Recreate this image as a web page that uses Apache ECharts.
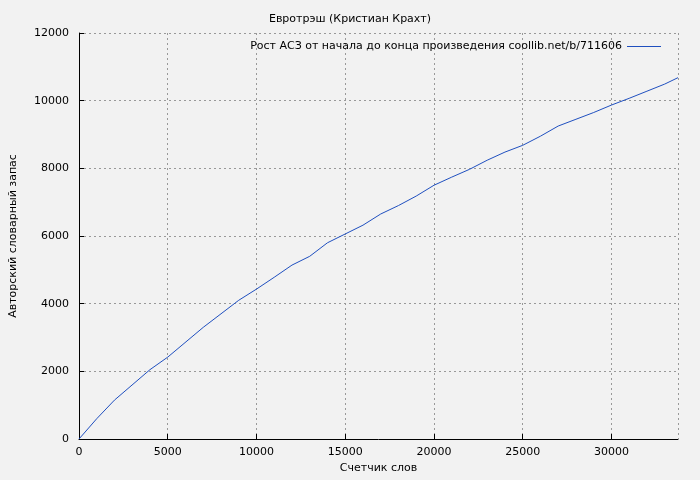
<!DOCTYPE html>
<html>
<head>
<meta charset="utf-8">
<script src="https://cdn.jsdelivr.net/npm/echarts@6/dist/echarts.min.js"></script>
<style>html,body{margin:0;padding:0;background:#f2f2f2}#chart{width:700px;height:480px}</style>
</head>
<body>
<div id="chart"></div>
<script>
const words = [0, 1000, 2000, 4000, 5000, 7000, 9000, 10000, 11000, 12000, 13000, 14000, 15000, 16000, 17000, 18000, 19000, 20000, 21000, 22000, 23000, 24000, 25000, 26000, 27000, 28000, 29000, 30000, 31000, 32000, 33000, 33750];
const vocab = [0, 600, 1150, 2050, 2420, 3300, 4100, 4430, 4780, 5140, 5400, 5800, 6060, 6320, 6650, 6900, 7180, 7500, 7740, 7970, 8240, 8480, 8680, 8950, 9250, 9450, 9650, 9870, 10070, 10280, 10490, 10680];

const chart = echarts.init(document.getElementById("chart"));
const font = "DejaVu Sans";
const gridLine = { show: true, lineStyle: { color: "#999", type: [2, 3], width: 1 } };

chart.setOption({
    backgroundColor: "#f2f2f2",
    animation: false,
    title: {
        text: "Евротрэш (Кристиан Крахт)",
        left: "center",
        top: 9,
        textStyle: { fontFamily: font, fontSize: 11, fontWeight: "normal", color: "#000" }
    },
    legend: {
        right: 34,
        top: 36,
        align: "right",
        itemWidth: 34,
        itemHeight: 1,
        icon: "rect",
        textStyle: { fontFamily: font, fontSize: 11, color: "#000" },
        data: ["Рост АСЗ от начала до конца произведения coollib.net/b/711606"]
    },
    grid: { left: 74, right: 22, top: 33, bottom: 41 },
    xAxis: {
        type: "value",
        min: 0,
        max: 33750,
        interval: 5000,
        name: "Счетчик слов",
        nameLocation: "middle",
        nameGap: 24,
        nameTextStyle: { fontFamily: font, fontSize: 11, color: "#000" },
        axisLine: { lineStyle: { color: "#000" } },
        axisTick: { inside: true, lineStyle: { color: "#000" } },
        axisLabel: { fontFamily: font, fontSize: 11, color: "#000", showMaxLabel: false, formatter: v => String(v) },
        splitLine: gridLine
    },
    yAxis: {
        type: "value",
        min: 0,
        max: 12000,
        interval: 2000,
        name: "Авторский словарный запас",
        nameLocation: "middle",
        nameGap: 60,
        nameTextStyle: { fontFamily: font, fontSize: 11, color: "#000" },
        axisLine: { show: true, lineStyle: { color: "#000" } },
        axisTick: { show: true, inside: true, lineStyle: { color: "#000" } },
        axisLabel: { fontFamily: font, fontSize: 11, color: "#000", margin: 10, formatter: v => String(v) },
        splitLine: gridLine
    },
    series: [{
        name: "Рост АСЗ от начала до конца произведения coollib.net/b/711606",
        type: "line",
        data: words.map((w, i) => [w, vocab[i]]),
        showSymbol: false,
        lineStyle: { color: "#1f4fbf", width: 1 },
        itemStyle: { color: "#1f4fbf" }
    }]
});
</script>
</body>
</html>
